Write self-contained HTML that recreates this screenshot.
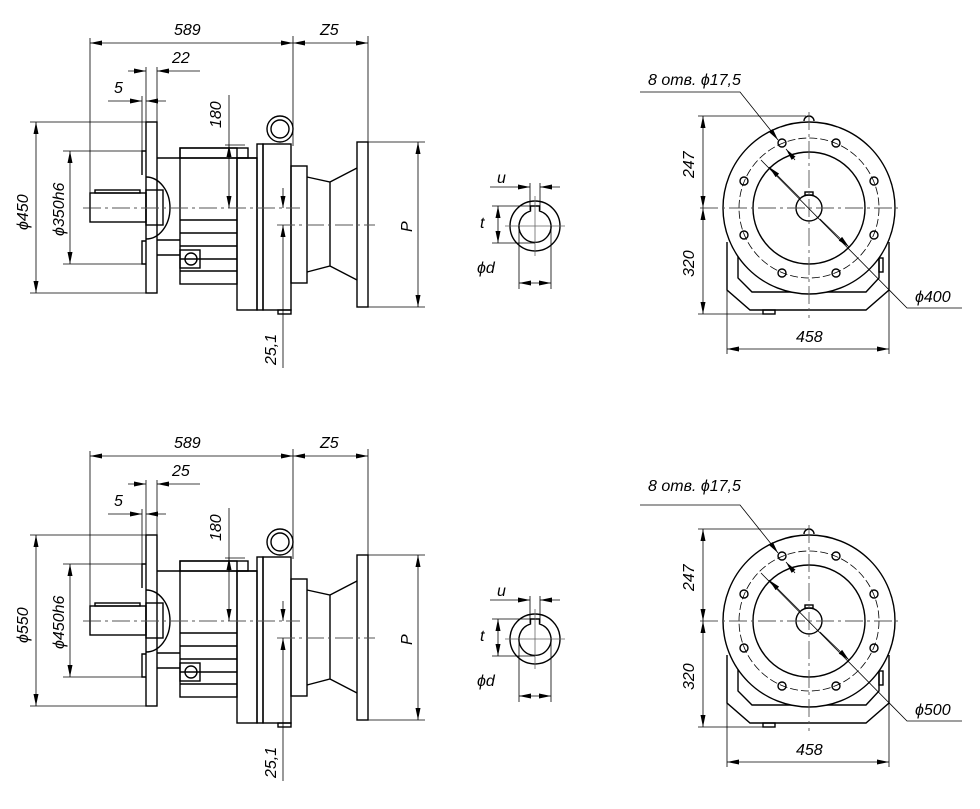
<!DOCTYPE html>
<html><head><meta charset="utf-8"><style>
html,body{margin:0;padding:0;background:#fff;}
svg{display:block;}
text{font-family:"Liberation Sans",sans-serif;font-style:italic;font-size:16px;fill:#000;}
</style></head><body>
<svg width="980" height="809" viewBox="0 0 980 809" xmlns="http://www.w3.org/2000/svg">
<defs>
<marker id="a" viewBox="0 0 12 6" refX="12" refY="3" markerWidth="12" markerHeight="6" orient="auto-start-reverse" markerUnits="userSpaceOnUse"><path d="M0,0.5 L12,3 L0,5.5z" fill="#000"/></marker>
<g id="side">
 <!-- outlines -->
 <g fill="none" stroke="#000" stroke-width="1.4">
  <rect x="146" y="122" width="11" height="171"/>
  <path d="M146,151 H142 V175 M146,241 H142 V264 H146 M142,151 V175"/>
  <path d="M146,177 A24,31 0 0 1 146,239"/>
  <rect x="90" y="193" width="56" height="29"/>
  <rect x="95" y="190" width="45" height="3"/>
  <rect x="146" y="190" width="17" height="35"/>
  <path d="M157,158 H257 M157,240 H180 M157,255 H180"/>
  <rect x="180" y="148" width="57" height="136"/>
  <rect x="180" y="148" width="68" height="10"/>
  <path d="M180,220 H237 M180,233 H237 M180,246 H237 M180,259 H237 M180,271 H237"/>
  <rect x="180" y="250" width="20" height="18"/>
  <circle cx="191" cy="259" r="6"/>
  <rect x="237" y="158" width="20" height="152"/>
  <rect x="257" y="144" width="6" height="166"/>
  <rect x="263" y="144" width="28" height="166"/>
  <rect x="278" y="310" width="13" height="4"/>
  <circle cx="280" cy="129" r="13"/>
  <circle cx="280" cy="129" r="9"/>
  <rect x="291" y="166" width="16" height="117"/>
  <path d="M307,177 L330,182 L357,168 M307,272 L330,266 L357,280 M330,182 V266"/>
  <rect x="357" y="142" width="11" height="165"/>
 </g>
 <!-- center lines -->
 <g fill="none" stroke="#555" stroke-width="0.9" stroke-dasharray="18,4,3,4">
  <path d="M83,208 H300"/>
  <path d="M277,225 H375"/>
 </g>
 <!-- dimension/extension lines -->
 <g fill="none" stroke="#000" stroke-width="0.8">
  <path d="M90,38 V222 M293,36 V146 M368,36 V142"/>
  <path d="M90,43 H293" marker-start="url(#a)" marker-end="url(#a)"/>
  <path d="M293,43 H368" marker-start="url(#a)" marker-end="url(#a)"/>
  <path d="M146,67 V122 M157,67 V122 M142,96 V151"/>
  <path d="M128,71 H146" marker-end="url(#a)"/>
  <path d="M200,71 H157" marker-end="url(#a)"/>
  <path d="M108,101 H142" marker-end="url(#a)"/>
  <path d="M166,101 H146" marker-end="url(#a)"/>
  <path d="M30,122 H146 M30,293 H146"/>
  <path d="M36,122 V293" marker-start="url(#a)" marker-end="url(#a)"/>
  <path d="M63,151 H142 M63,264 H142"/>
  <path d="M70,151 V264" marker-start="url(#a)" marker-end="url(#a)"/>
  <path d="M225,145 H245"/>
  <path d="M229,95 V145"/>
  <path d="M229,145 V208" marker-start="url(#a)" marker-end="url(#a)"/>
  <path d="M283,188 V208" marker-end="url(#a)"/>
  <path d="M283,368 V225" marker-end="url(#a)"/>
  <path d="M368,142 H425 M368,307 H425"/>
  <path d="M418,142 V307" marker-start="url(#a)" marker-end="url(#a)"/>
 </g>
 <!-- keyway section -->
 <g fill="none" stroke="#000" stroke-width="1.4">
  <circle cx="535" cy="226" r="25"/>
  <path d="M530.5,211 A16,16 0 1 0 539.5,211 V206 H530.5 Z"/>
 </g>
 <g fill="none" stroke="#000" stroke-width="0.8">
  <path d="M535,196 V256 M505,226 H565" stroke="#666"/>
  <path d="M530,183 V210 M540,183 V210"/>
  <path d="M490,187 H530" marker-end="url(#a)"/>
  <path d="M560,187 H540" marker-end="url(#a)"/>
  <path d="M492,206 H535 M492,243 H535"/>
  <path d="M498,206 V243" marker-start="url(#a)" marker-end="url(#a)"/>
  <path d="M519,226 V289 M551,226 V289"/>
  <path d="M519,283 H551" marker-start="url(#a)" marker-end="url(#a)"/>
 </g>
 <!-- front view -->
 <g fill="none" stroke="#000" stroke-width="1.4">
  <path d="M727,242 V290 L750,310 H866 L889,290 V242"/>
  <path d="M738,252 V278 L752,292 H866 L879,278 V252"/>
  <rect x="763" y="310" width="12" height="4"/>
  <rect x="879" y="258" width="4" height="14"/>
  <path d="M804,121 A5,5 0 0 1 814,121"/>
  <circle cx="809" cy="208" r="86" fill="#fff"/>
  <circle cx="809" cy="208" r="56"/>
  <circle cx="809" cy="208" r="13"/>
  <rect x="805" y="192" width="8" height="3"/>
  <circle cx="782" cy="143" r="4"/><circle cx="836" cy="143" r="4"/>
  <circle cx="874" cy="181" r="4"/><circle cx="874" cy="235" r="4"/>
  <circle cx="836" cy="273" r="4"/><circle cx="782" cy="273" r="4"/>
  <circle cx="744" cy="235" r="4"/><circle cx="744" cy="181" r="4"/>
 </g>
 <circle cx="809" cy="208" r="70" fill="none" stroke="#000" stroke-width="0.8" stroke-dasharray="8,3"/>
 <g fill="none" stroke="#555" stroke-width="0.9" stroke-dasharray="18,4,3,4">
  <path d="M700,208 H898 M809,112 V318"/>
 </g>
 <g fill="none" stroke="#000" stroke-width="0.8">
  <path d="M698,116 H806 M698,314 H770"/>
  <path d="M703,116 V208" marker-start="url(#a)" marker-end="url(#a)"/>
  <path d="M703,208 V314" marker-start="url(#a)" marker-end="url(#a)"/>
  <path d="M727,290 V354 M889,290 V354"/>
  <path d="M727,349 H889" marker-start="url(#a)" marker-end="url(#a)"/>
  <path d="M640,92 H740 L772,132" />
  <path d="M772,132 L778,140" marker-end="url(#a)"/>
  <path d="M795,160 L786,149" marker-end="url(#a)"/>
  <path d="M761,160 L907,308 H962"/>
  <path d="M800,198 L769,167" marker-end="url(#a)"/>
  <path d="M820,219 L849,247" marker-end="url(#a)"/>
 </g>
</g>
</defs>
<use href="#side"/>
<use href="#side" transform="translate(0,413)"/>

<!-- texts top -->
<text x="174" y="35">589</text>
<text x="320" y="35">Z5</text>
<text x="172" y="63">22</text>
<text x="114" y="93">5</text>
<text transform="translate(221,128) rotate(-90)">180</text>
<text transform="translate(28,230) rotate(-90)">ϕ450</text>
<text transform="translate(64,236) rotate(-90)">ϕ350h6</text>
<text transform="translate(412,232) rotate(-90)">P</text>
<text transform="translate(276,365) rotate(-90)">25,1</text>
<text x="497" y="183">u</text>
<text x="480" y="228">t</text>
<text x="477" y="273">ϕd</text>
<text x="648" y="85">8 отв. ϕ17,5</text>
<text transform="translate(694,178) rotate(-90)">247</text>
<text transform="translate(694,277) rotate(-90)">320</text>
<text x="796" y="342">458</text>
<text x="915" y="302">ϕ400</text>

<!-- texts bottom -->
<text x="174" y="448">589</text>
<text x="320" y="448">Z5</text>
<text x="172" y="476">25</text>
<text x="114" y="506">5</text>
<text transform="translate(221,541) rotate(-90)">180</text>
<text transform="translate(28,643) rotate(-90)">ϕ550</text>
<text transform="translate(64,649) rotate(-90)">ϕ450h6</text>
<text transform="translate(412,645) rotate(-90)">P</text>
<text transform="translate(276,778) rotate(-90)">25,1</text>
<text x="497" y="596">u</text>
<text x="480" y="641">t</text>
<text x="477" y="686">ϕd</text>
<text x="648" y="491">8 отв. ϕ17,5</text>
<text transform="translate(694,591) rotate(-90)">247</text>
<text transform="translate(694,690) rotate(-90)">320</text>
<text x="796" y="755">458</text>
<text x="915" y="715">ϕ500</text>
</svg>
</body></html>
